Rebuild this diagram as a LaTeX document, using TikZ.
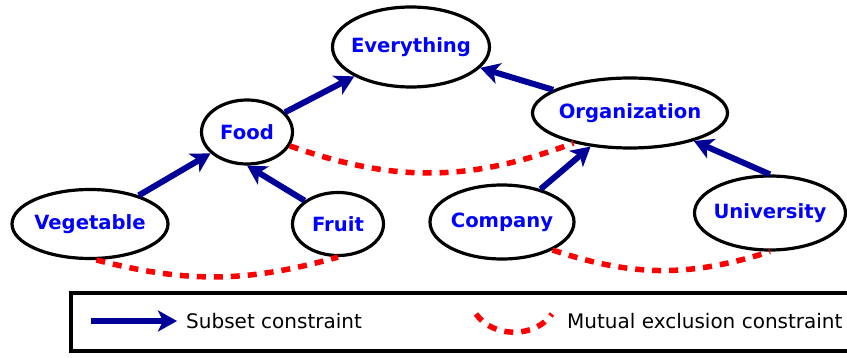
\documentclass[tikz,border=0pt]{standalone}
\usepackage{fontspec}
\setmainfont{DejaVu Sans}
\usetikzlibrary{arrows.meta,shapes.geometric,positioning}
\definecolor{conceptblue}{RGB}{0,0,255}
\definecolor{arrowblue}{RGB}{0,0,153}
\definecolor{mutexred}{RGB}{255,0,0}
\tikzset{
  concept/.style={draw,ellipse,line width=3.2pt,inner sep=0pt,text=conceptblue,
    font=\fontsize{19.6}{23}\selectfont\bfseries,
    execute at begin node={\hbox to 0pt\bgroup\hss},
    execute at end node={\hss\egroup}},
  subset/.style={draw=arrowblue,line width=6pt,
    -{Stealth[length=19pt,width=21pt,inset=5pt,fill=arrowblue]}},
  mutex/.style={draw=mutexred,line width=5.5pt,dash pattern=on 9pt off 8pt},
  legendtext/.style={anchor=west,inner sep=0pt,font=\fontsize{20}{23}\selectfont},
}
\begin{document}
\begin{tikzpicture}[x=1pt,y=1pt]
	\useasboundingbox (0,0) rectangle (847,-358);
	% concepts
	\node[concept,minimum width=157,minimum height=80] (everything) at (411,-47) {Everything};
	\node[concept,minimum width=91,minimum height=64] (food) at (247,-132) {Food};
	\node[concept,minimum width=195,minimum height=70] (organization) at (630,-113) {Organization};
	\node[concept,minimum width=156,minimum height=69] (vegetable) at (90,-224) {Vegetable};
	\node[concept,minimum width=91,minimum height=63] (fruit) at (338,-224) {Fruit};
	\node[concept,minimum width=144,minimum height=74] (company) at (502,-222) {Company};
	\node[concept,minimum width=151,minimum height=74] (university) at (770,-213) {University};
	% subset constraints
	\draw[subset] (food) -- (everything);
	\draw[subset] (organization) -- (everything);
	\draw[subset] (vegetable) -- (food);
	\draw[subset] (fruit.145) -- (food.south);
	\draw[subset] (company) -- (organization);
	\draw[subset] (university.north) -- (organization);
	% mutual exclusion constraints
	\draw[mutex] (food.-18) to[bend right=20] (organization.-152);
	\draw[mutex] (vegetable.-80) to[bend right=15] (fruit.south);
	\draw[mutex] (company.-29) to[bend right=18] (university.south);
	% legend
	\draw[line width=4pt] (71,-293) rectangle (880,-351);
	\coordinate (subset from) at (91,-321);
	\coordinate (subset to) at (177,-321);
	\draw[subset] (subset from) -- (subset to);
	\node[legendtext] (subset label) at (186,-321) {Subset constraint};
	\coordinate (mutex from) at (476,-314);
	\coordinate (mutex to) at (552,-314);
	\draw[mutex] (mutex from) to[bend right=55] (mutex to);
	\node[legendtext] (mutex label) at (567,-321) {Mutual exclusion constraint};
\end{tikzpicture}
\end{document}
